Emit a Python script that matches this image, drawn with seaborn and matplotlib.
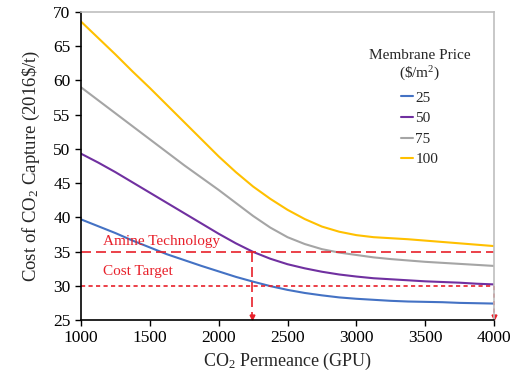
import matplotlib
matplotlib.use("Agg")
import matplotlib.pyplot as plt
import seaborn as sns
import numpy as np
import pandas as pd

# CO2 permeance (GPU) and capture cost (2016$/t) per membrane price ($/m2)
permeance = [1000, 1125, 1250, 1375, 1500, 1625, 1750, 1875, 2000, 2125, 2250, 2375, 2500,
             2625, 2750, 2875, 3000, 3125, 3250, 3375, 3500, 3625, 3750, 3875, 4000]
cost_25 = [39.7, 38.7, 37.7, 36.6, 35.6, 34.6, 33.75, 32.9, 32.1, 31.3, 30.6, 29.95, 29.4,
           28.95, 28.6, 28.3, 28.1, 27.95, 27.8, 27.7, 27.65, 27.6, 27.5, 27.45, 27.4]
cost_50 = [49.3, 48.0, 46.6, 45.1, 43.6, 42.1, 40.6, 39.1, 37.6, 36.2, 34.95, 33.95, 33.15,
           32.55, 32.05, 31.65, 31.35, 31.1, 30.95, 30.8, 30.65, 30.55, 30.45, 30.3, 30.2]
cost_75 = [59.0, 57.1, 55.2, 53.3, 51.4, 49.5, 47.6, 45.8, 44.0, 42.1, 40.2, 38.5, 37.1,
           36.1, 35.35, 34.85, 34.5, 34.15, 33.9, 33.7, 33.5, 33.35, 33.2, 33.05, 32.9]
cost_100 = [68.6, 66.2, 63.8, 61.3, 58.9, 56.4, 53.9, 51.4, 48.9, 46.6, 44.5, 42.7, 41.1,
            39.75, 38.65, 37.9, 37.4, 37.1, 36.95, 36.8, 36.6, 36.4, 36.2, 36.0, 35.8]
prices = ["25", "50", "75", "100"]
colors = ["#4472C4", "#7030A0", "#A5A5A5", "#FFC000"]

amine_cost = 35
target_cost = 30
amine_permeance = 2240
max_permeance = 4000

df = pd.DataFrame({
    "permeance": permeance * 4,
    "cost": cost_25 + cost_50 + cost_75 + cost_100,
    "price": np.repeat(prices, len(permeance)),
})

sns.set_style("white")
plt.rcParams["font.family"] = ["Liberation Serif", "DejaVu Serif"]
plt.rcParams["mathtext.fontset"] = "custom"
plt.rcParams["mathtext.rm"] = "Liberation Serif"
plt.rcParams["mathtext.it"] = "Liberation Serif:italic"

fig = plt.figure(figsize=(5.21, 3.74), dpi=100)
ax = fig.add_axes([0.1555, 0.1444, 0.7927, 0.8235])

sns.lineplot(data=df, x="permeance", y="cost", hue="price",
             palette=colors, linewidth=1.5, ax=ax)

red = "#E8202A"
ax.plot([1000, max_permeance], [amine_cost, amine_cost], color=red,
        linestyle=(0, (6, 3)), linewidth=1.2)
ax.plot([1000, max_permeance], [target_cost, target_cost], color=red,
        linestyle=(0, (2.5, 2)), linewidth=1.2)
ax.plot([amine_permeance, amine_permeance], [amine_cost, 25.3], color=red,
        linestyle=(0, (6, 3)), linewidth=1.2)
ax.plot([max_permeance, max_permeance], [target_cost, 25.3], color=red,
        linestyle=(0, (2.5, 2)), linewidth=1.2, clip_on=False)
ax.plot([amine_permeance, max_permeance], [25.4, 25.4], "v", color=red,
        markersize=3.5, clip_on=False)

ax.text(1160, 36.0, "Amine Technology", color=red, fontsize=11)
ax.text(1160, 31.6, "Cost Target", color=red, fontsize=11)

ax.set_xlim(1000, 4000)
ax.set_ylim(25, 70)
ax.set_xticks(np.arange(1000, 4001, 500))
ax.set_yticks(np.arange(25, 71, 5))
ax.tick_params(axis="both", direction="out", length=4, width=1,
               labelsize=12.5, colors="black", bottom=True, left=True)
ax.set_xlabel("CO$_2$ Permeance (GPU)", fontsize=13, labelpad=3)
ax.set_ylabel("Cost of CO$_2$ Capture (2016\\$/t)", fontsize=13.5, labelpad=8)

for side in ["left", "bottom"]:
    ax.spines[side].set_color("black")
    ax.spines[side].set_linewidth(1.2)
for side in ["top", "right"]:
    ax.spines[side].set_color("#BFBFBF")
    ax.spines[side].set_linewidth(1.2)

leg = ax.legend(title="Membrane Price\n(\\$/m$^2$)", loc="upper right",
                bbox_to_anchor=(0.976, 0.925), frameon=False, fontsize=11,
                title_fontsize=11, handlelength=0.8, handletextpad=0.15,
                labelspacing=0.45)
leg._legend_box.align = "center"
leg._legend_box.sep = 6
leg.get_title().set_multialignment("center")

fig.savefig("out.png", dpi=100)
plt.close(fig)
